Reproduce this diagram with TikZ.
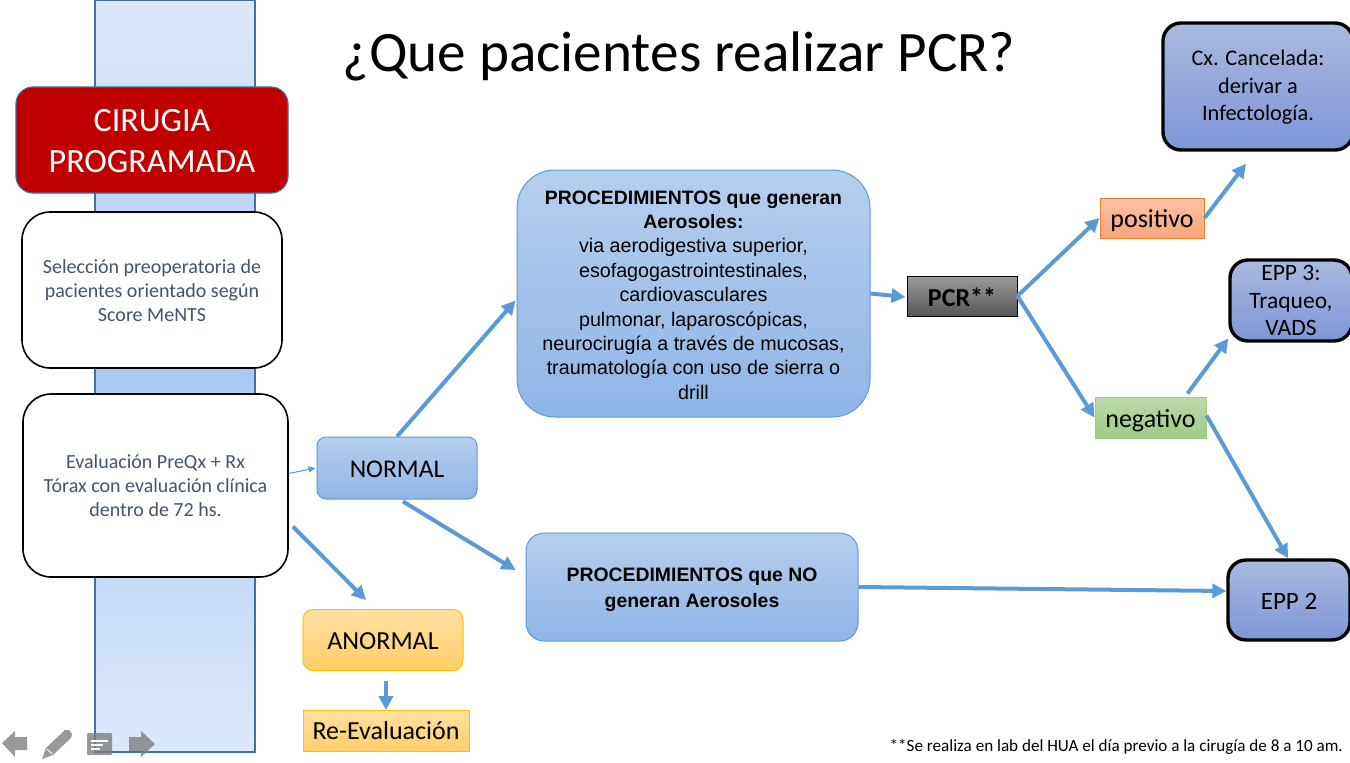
\documentclass[tikz,border=0pt]{standalone}
\usepackage{fontspec}
\setmainfont{Carlito}
\newfontfamily\arialf{Liberation Sans}
\usetikzlibrary{arrows.meta}
\newcommand{\fs}[2]{\fontsize{#1}{#2}\selectfont}
\newcommand{\dn}[2]{\raisebox{-#1pt}[\height][\depth]{#2}}
\definecolor{arrowblue}{HTML}{5B9BD5}
\definecolor{slatetext}{HTML}{44546A}
\definecolor{bluetop}{HTML}{B5CFEE}
\definecolor{bluebot}{HTML}{8FB5E6}
\definecolor{ambertop}{HTML}{FFE0A3}
\definecolor{amberbot}{HTML}{FFCF66}
\definecolor{amberbd}{HTML}{FFC000}
\definecolor{epptop}{HTML}{A9BADF}
\definecolor{eppbot}{HTML}{7D96D6}
\definecolor{bartop}{HTML}{DCE9FB}
\definecolor{barmid}{HTML}{A9CAF4}
\definecolor{barbd}{HTML}{41719C}
\definecolor{pcrtop}{HTML}{9C9C9C}
\definecolor{pcrbot}{HTML}{565656}
\definecolor{postop}{HTML}{F9C3A6}
\definecolor{posbot}{HTML}{F6A679}
\definecolor{posbd}{HTML}{ED7D31}
\definecolor{negtop}{HTML}{BBDAAA}
\definecolor{negbot}{HTML}{9FCB85}
\definecolor{negbd}{HTML}{A0CC86}
\definecolor{cirred}{HTML}{C00000}
\definecolor{cirbd}{HTML}{4A6A9A}
\definecolor{navgray}{HTML}{7F7F7F}
\tikzset{
  box/.style={align=center,inner sep=0pt,text=black},
  whitebox/.style={box,draw=black,line width=1.6pt,fill=white,rounded corners=28pt,text=slatetext,font=\fs{20}{24}},
  bluebox/.style={box,draw=arrowblue,line width=1pt,top color=bluetop,bottom color=bluebot},
  amberbox/.style={box,draw=amberbd,line width=1pt,top color=ambertop,bottom color=amberbot,font=\fs{26}{30}},
  eppbox/.style={box,draw=black,line width=3.4pt,top color=epptop,bottom color=eppbot,rounded corners=18pt},
  flow/.style={draw=arrowblue,line width=4pt,-{Triangle[length=14pt,width=14pt]}},
  thinflow/.style={draw=arrowblue,line width=1pt,-{Triangle[length=7pt,width=6pt]}},
  navicon/.style={fill=navgray,draw=none,fill opacity=.8},
}
\begin{document}
\begin{tikzpicture}[x=1pt,y=-1pt]
\useasboundingbox (0,0) rectangle (1350,763);
% background bar
\shade[top color=bartop,bottom color=barmid] (95,0) rectangle (255,376);
\shade[top color=barmid,bottom color=bartop] (95,376) rectangle (255,752);
\draw[draw=barbd,line width=1.2pt] (95,0) rectangle (255,752);
% title
\node[box,font=\fs{57.2}{60}] (title) at (679,56) {¿Que pacientes realizar PCR?};
% left column
\node[box,draw=cirbd,line width=1.2pt,fill=cirred,rounded corners=17pt,text=white,font=\fs{34}{41},minimum width=272pt,minimum height=106pt] (cirugia) at (152,140) {\dn{1}{CIRUGIA}\\\dn{1}{PROGRAMADA}};
\node[whitebox,minimum width=260pt,minimum height=156pt] (sel) at (152,290) {\dn{1}{Selección preoperatoria de}\\\dn{1}{pacientes orientado según}\\\dn{1}{Score MeNTS}};
\node[whitebox,minimum width=265pt,minimum height=183pt] (eval) at (155.5,485.5) {Evaluación PreQx + Rx\\Tórax con evaluación clínica\\dentro de 72 hs.};
% middle column
\node[bluebox,rounded corners=9pt,font=\fs{25.5}{30},minimum width=160pt,minimum height=62pt] (normal) at (397,468) {\dn{1}{NORMAL}};
\node[amberbox,rounded corners=10pt,minimum width=160pt,minimum height=61pt] (anormal) at (383,640) {\dn{1}{ANORMAL}};
\node[amberbox,minimum width=166pt,minimum height=41pt] (reeval) at (386,731) {Re-Evaluación};
\node[bluebox,rounded corners=38pt,minimum width=353pt,minimum height=247pt,font=\arialf\fs{19.7}{24.4}] (aero) at (693.5,293.5) {\dn{1.5}{\bfseries\fontsize{19.4}{24.4}\selectfont PROCEDIMIENTOS que generan}\\\dn{1.5}{\bfseries\fontsize{19.4}{24.4}\selectfont Aerosoles:}\\\dn{1.5}{via aerodigestiva superior,}\\\dn{1.5}{esofagogastrointestinales,}\\\dn{1.5}{cardiovasculares}\\\dn{1.5}{pulmonar, laparoscópicas,}\\\dn{1.5}{neurocirugía a través de mucosas,}\\\dn{1.5}{traumatología con uso de sierra o}\\\dn{1.5}{drill}};
\node[bluebox,rounded corners=18pt,minimum width=332pt,minimum height=108pt,font=\arialf\bfseries\fs{19.4}{26}] (noaero) at (692,587) {\dn{3}{PROCEDIMIENTOS que NO}\\\dn{3}{generan Aerosoles}};
% right column
\node[box,draw=black,line width=1pt,top color=pcrtop,bottom color=pcrbot,font=\bfseries\fs{26}{30},minimum width=110pt,minimum height=40pt] (pcr) at (962,296) {\dn{1}{PCR**}};
\node[box,draw=posbd,line width=1pt,top color=postop,bottom color=posbot,font=\fs{26}{30},minimum width=104pt,minimum height=40pt] (pos) at (1152,218) {\dn{3}{positivo}};
\node[box,draw=negbd,line width=1pt,top color=negtop,bottom color=negbot,font=\fs{26}{30},minimum width=111pt,minimum height=41pt] (neg) at (1150.5,417.5) {\dn{3}{negativo}};
\node[eppbox,font=\fs{22.3}{27.5},minimum width=190pt,minimum height=127pt] (cx) at (1258,86.5) {\dn{1}{Cx. Cancelada:}\\\dn{1}{derivar a}\\\dn{1}{Infectología.}};
\node[eppbox,font=\fs{23.5}{27.5},minimum width=122pt,minimum height=81pt] (epp3) at (1291,300.5) {EPP 3:\\Traqueo,\\VADS};
\node[eppbox,font=\fs{25}{30},minimum width=122pt,minimum height=80pt] (epp2) at (1289,600) {\dn{1}{EPP 2}};
% footnote
\node[box,anchor=east,font=\fs{17.1}{18}] (note) at (1343,747) {**Se realiza en lab del HUA el día previo a la cirugía de 8 a 10 am.};
% connectors
\draw[thinflow] ([shift={(0,-12)}]eval.east) -- ([shift={(-1,0)}]normal.west);
\draw[flow] ([shift={(4,41)}]eval.east) -- ([shift={(-17,-9)}]anormal.north);
\draw[flow] (normal.north) -- ([shift={(-1,7)}]aero.west);
\draw[flow] ([shift={(6,2)}]normal.south) -- ([shift={(-10,-17)}]noaero.west);
\draw[flow] ([shift={(3,10)}]anormal.south) -- (reeval.north);
\draw[flow] (aero.east) -- ([shift={(-1,1)}]pcr.west);
\draw[flow] (pcr.east) -- (pos.west);
\draw[flow] (pcr.east) -- (neg.west);
\draw[flow] (pos.east) -- ([shift={(-12,12)}]cx.south);
\draw[flow] ([shift={(37,-3)}]neg.north) -- ([shift={(0,38)}]epp3.west);
\draw[flow] ([shift={(0,-2)}]neg.east) -- ([shift={(-1,0)}]epp2.north);
\draw[flow] (noaero.east) -- ([shift={(0,-9)}]epp2.west);
% slide navigation icons
\path[navicon] (27,737) -- (27,750) -- (15,750) -- (15,757) -- (2,743) -- (15,731) -- (15,737) -- cycle;
\path[navicon] (42,759) -- (46,748) -- (65,730) -- (69,730) -- (72,734) -- (71,738) -- (53,755) -- cycle;
\draw[white,line width=1pt] (47,749) -- (52,754);
\path[navicon,rounded corners=1pt] (87,733) rectangle (112,755);
\draw[white,line width=1.5pt] (91,741) -- (108,741) (91,745) -- (103,745) (91,749) -- (100,749);
\path[navicon] (129,737) -- (141,737) -- (141,731) -- (155,744) -- (141,757) -- (141,751) -- (129,751) -- cycle;
\end{tikzpicture}
\end{document}
